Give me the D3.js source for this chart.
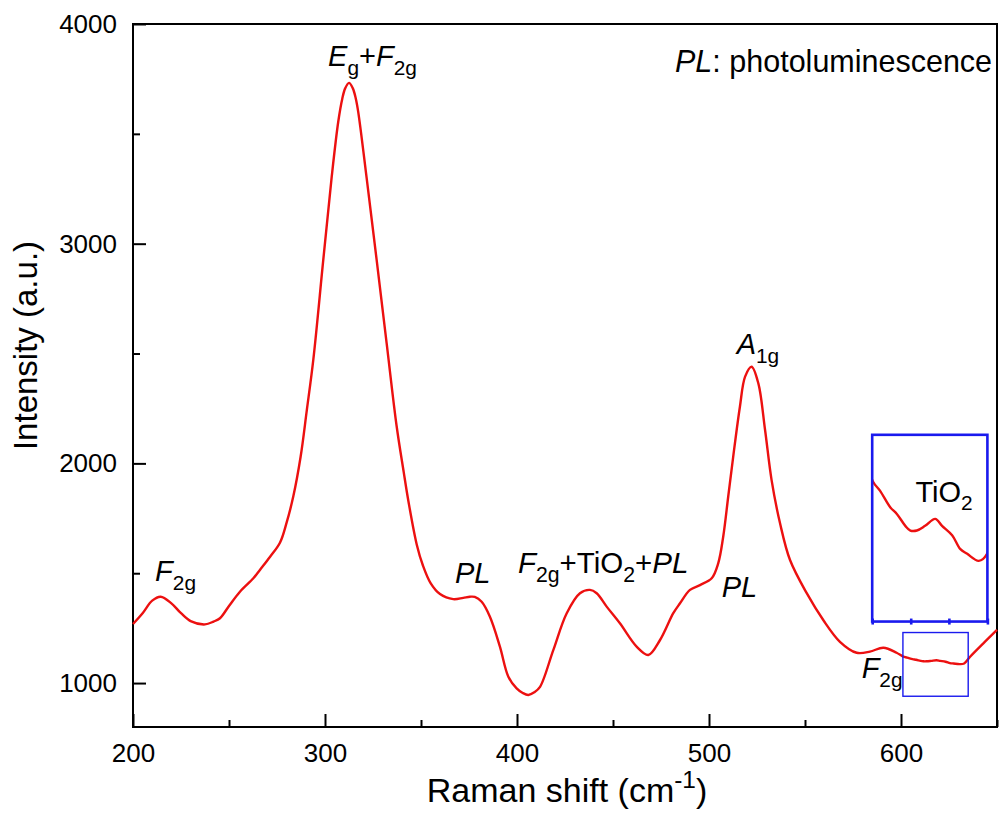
<!DOCTYPE html>
<html>
<head>
<meta charset="utf-8">
<script src="https://cdn.jsdelivr.net/npm/d3@7"></script>
<style>
  body { margin: 0; background: #fff; }
  text { font-family: "Liberation Sans", Arial, sans-serif; fill: #000; }
</style>
</head>
<body>
<div id="chart"></div>
<script>
// Raman spectrum
const ramanShift = [200, 205, 210, 214.4, 220, 225, 230, 237.5, 242, 245.3,
  250, 255.7, 262.7, 266.1, 271.4, 276.6, 280, 283.5, 287.3, 290.5, 293.9,
  299.1, 303.5, 306.9, 309, 310.5, 312.5, 314.5, 316, 317.3, 321.7, 326.9, 332.1,
  337.3, 341, 343.4, 347.8, 351, 355, 359.9, 366.8, 372, 375.5, 378, 381.6,
  385.9, 391.1, 395.5, 399.8, 403, 405.9, 409, 412, 418.9, 425.9, 432.8, 438,
  441.5, 446.7, 453.6, 462.3, 468.4, 474.5, 481.4, 484.9, 490.1, 495.3,
  501.4, 504.8, 507.4, 510, 512.6, 516.1, 518.8, 522.2, 525.7, 529.2,
  532.6, 537, 542.2, 550.9, 559.5, 568.2, 576.9, 583.8, 590.8, 597.7,
  601.2, 603.2, 606, 607.9, 610.2, 611.6, 613.4, 615.7, 618.5, 620.4,
  623.2, 625.5, 627.4, 630.6, 632.9, 636, 642.9, 650];
const intensity = [1269, 1318, 1375, 1393, 1363, 1318, 1282, 1267, 1280, 1295,
  1351, 1416, 1477, 1515, 1575, 1640, 1730, 1850, 2030, 2240, 2471,
  2926, 3305, 3555, 3660, 3707, 3732, 3707, 3662, 3600, 3298, 2926, 2547,
  2170, 1960, 1830, 1630, 1535, 1455, 1405, 1382, 1388, 1393, 1392, 1370,
  1302, 1166, 1029, 976, 955, 946, 958, 983, 1150, 1318, 1409, 1424,
  1409, 1348, 1272, 1166, 1128, 1196, 1318, 1363, 1424, 1446,
  1477, 1545, 1666, 1848, 2030, 2258, 2395, 2440, 2364, 2152,
  1924, 1727, 1560, 1409, 1287, 1188, 1138, 1143, 1161, 1138,
  1120, 1116, 1109, 1106, 1101, 1099, 1099, 1101, 1104, 1101,
  1097, 1091, 1089, 1086, 1089, 1120, 1181, 1242];

const xMajor = [200, 300, 400, 500, 600];
const xMinor = [250, 350, 450, 550, 650];
const yMajor = [1000, 2000, 3000, 4000];
const yMinor = [1500, 2500, 3500];

// zoomed window shown in the inset
const zoomX = [601, 633];
const zoomY = [1060, 1140];
const zoomBoxX = [601, 635];
const zoomBoxY = [940, 1230];
const insetTicks = [611.7, 622.3];
// where the inset sits, in main axis units
const insetX = [585, 645];
const insetY = [1280, 2130];

// peak labels: [text, style] parts, anchored in data units
const labels = [
  { x: 301.6, y: 3809, size: 29, parts: [["E", "i"], ["g", "sub"], ["+"], ["F", "i"], ["2g", "sub"]] },
  { x: 211.5, y: 1465, size: 29, parts: [["F", "i"], ["2g", "sub"]] },
  { x: 367.7, y: 1454, size: 29, parts: [["PL", "i"]] },
  { x: 400.5, y: 1501, size: 29.5, parts: [["F", "i"], ["2g", "sub"], ["+TiO"], ["2", "sub"], ["+"], ["PL", "i"]] },
  { x: 506.6, y: 1393, size: 29, parts: [["PL", "i"]] },
  { x: 514.4, y: 2498, size: 29, parts: [["A", "i"], ["1g", "sub"]] },
  { x: 579.5, y: 1022, size: 29, parts: [["F", "i"], ["2g", "sub"]] },
  { x: 482.3, y: 3780, size: 30.5, parts: [["PL", "i"], [": photoluminescence"]] }
];

const width = 1001, height = 814;
const margin = { top: 24, right: 4, bottom: 87, left: 133 };

const svg = d3.select("#chart").append("svg")
  .attr("width", width).attr("height", height);

const x = d3.scaleLinear().domain([200, 650]).range([margin.left, width - margin.right]);
const y = d3.scaleLinear().domain([800, 4000]).range([height - margin.bottom, margin.top]);

const red = "#ec1010";
const blue = "#1a1aee";

const data = ramanShift.map((d, i) => ({ x: d, y: intensity[i] }));

// write text made of italic / subscript / superscript pieces
function richText(t, parts, size) {
  let shift = 0;
  parts.forEach(p => {
    const style = p[1] || "";
    const target = style === "sub" ? size * 0.3 : style === "sup" ? -size * 0.42 : 0;
    t.append("tspan")
      .attr("dy", target - shift)
      .attr("font-size", (style === "sub" || style === "sup") ? size * 0.72 : size)
      .attr("font-style", style === "i" ? "italic" : "normal")
      .text(p[0]);
    shift = target;
  });
}

// axes
const bottom = height - margin.bottom;
svg.append("g")
  .attr("transform", `translate(0,${bottom})`)
  .call(d3.axisBottom(x).tickValues(xMajor).tickSize(-13).tickPadding(17).tickFormat(d3.format("d")))
  .call(g => g.select(".domain").remove())
  .call(g => g.selectAll("line").attr("stroke", "#000").attr("stroke-width", 2))
  .call(g => g.selectAll("text").attr("font-size", 26).attr("font-family", "Liberation Sans, Arial"));
svg.append("g")
  .attr("transform", `translate(0,${bottom})`)
  .call(d3.axisBottom(x).tickValues(xMinor).tickSize(-7).tickFormat(""))
  .call(g => g.select(".domain").remove())
  .call(g => g.selectAll("line").attr("stroke", "#000").attr("stroke-width", 2));

svg.append("g")
  .attr("transform", `translate(${margin.left},0)`)
  .call(d3.axisLeft(y).tickValues(yMajor).tickSize(-13).tickPadding(16).tickFormat(d3.format("d")))
  .call(g => g.select(".domain").remove())
  .call(g => g.selectAll("line").attr("stroke", "#000").attr("stroke-width", 2))
  .call(g => g.selectAll("text").attr("font-size", 26).attr("font-family", "Liberation Sans, Arial"));
svg.append("g")
  .attr("transform", `translate(${margin.left},0)`)
  .call(d3.axisLeft(y).tickValues(yMinor).tickSize(-7).tickFormat(""))
  .call(g => g.select(".domain").remove())
  .call(g => g.selectAll("line").attr("stroke", "#000").attr("stroke-width", 2));

// frame
svg.append("rect")
  .attr("x", x(200)).attr("y", y(4000))
  .attr("width", x(650) - x(200)).attr("height", y(800) - y(4000))
  .attr("fill", "none").attr("stroke", "#000").attr("stroke-width", 2);

// axis titles
const xt = svg.append("text")
  .attr("x", (x(200) + x(650)) / 2 + 2).attr("y", 802)
  .attr("text-anchor", "middle");
richText(xt, [["Raman shift (cm"], ["-1", "sup"], [")"]], 34);

svg.append("text")
  .attr("transform", `translate(37,${(y(800) + y(4000)) / 2 - 30}) rotate(-90)`)
  .attr("text-anchor", "middle")
  .attr("font-size", 33)
  .text("Intensity (a.u.)");

// spectrum
const line = d3.line().x(d => x(d.x)).y(d => y(d.y)).curve(d3.curveCatmullRom.alpha(0.5));
svg.append("path")
  .datum(data)
  .attr("d", line)
  .attr("fill", "none").attr("stroke", red).attr("stroke-width", 2.4);

// zoom box on the main curve
svg.append("rect")
  .attr("x", x(zoomBoxX[0])).attr("y", y(zoomBoxY[1]))
  .attr("width", x(zoomBoxX[1]) - x(zoomBoxX[0]))
  .attr("height", y(zoomBoxY[0]) - y(zoomBoxY[1]))
  .attr("fill", "none").attr("stroke", blue).attr("stroke-width", 1.4);

// inset
const ix = d3.scaleLinear().domain(zoomX).range([x(insetX[0]), x(insetX[1])]);
const iy = d3.scaleLinear().domain(zoomY).range([y(insetY[0]), y(insetY[1])]);

svg.append("clipPath").attr("id", "insetClip")
  .append("rect")
  .attr("x", ix(zoomX[0])).attr("y", iy(zoomY[1]))
  .attr("width", ix(zoomX[1]) - ix(zoomX[0]))
  .attr("height", iy(zoomY[0]) - iy(zoomY[1]));

const insetLine = d3.line().x(d => ix(d.x)).y(d => iy(d.y)).curve(d3.curveCatmullRom.alpha(0.5));
svg.append("path")
  .datum(data.filter(d => d.x >= zoomX[0] - 4 && d.x <= zoomX[1] + 4))
  .attr("clip-path", "url(#insetClip)")
  .attr("d", insetLine)
  .attr("fill", "none").attr("stroke", red).attr("stroke-width", 2.4);

svg.append("rect")
  .attr("x", ix(zoomX[0])).attr("y", iy(zoomY[1]))
  .attr("width", ix(zoomX[1]) - ix(zoomX[0]))
  .attr("height", iy(zoomY[0]) - iy(zoomY[1]))
  .attr("fill", "none").attr("stroke", blue).attr("stroke-width", 2.6);

svg.append("g")
  .attr("transform", `translate(0,${iy(zoomY[0])})`)
  .call(d3.axisBottom(ix).tickValues(insetTicks.concat(zoomX)).tickSize(3).tickFormat(""))
  .call(g => g.select(".domain").remove())
  .call(g => g.selectAll("line").attr("stroke", blue).attr("stroke-width", 2.6).attr("y1", -3));

const tio = svg.append("text").attr("x", ix(613)).attr("y", iy(1111.4));
richText(tio, [["TiO"], ["2", "sub"]], 29);

// peak labels
labels.forEach(l => {
  const t = svg.append("text").attr("x", x(l.x)).attr("y", y(l.y));
  richText(t, l.parts, l.size);
});
</script>
</body>
</html>
